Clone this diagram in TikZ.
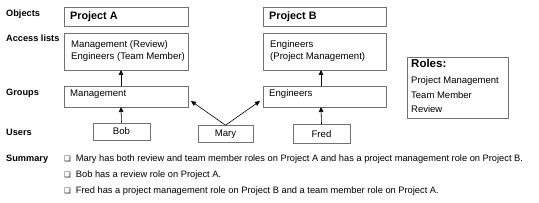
\documentclass[tikz,border=0pt]{standalone}
\usepackage{fontspec}
\setmainfont{Liberation Sans}
\newfontfamily\dejavu{DejaVu Sans}
\newcommand\mychk{{\dejavu\fontsize{7.5}{8}\selectfont ❑}\hspace{5pt}}
\usetikzlibrary{arrows.meta}
\begin{document}
\begin{tikzpicture}[x=1pt,y=-1pt,
  box/.style={draw=black!55, line width=0.6pt, inner sep=0pt},
  lbl/.style={anchor=west, inner sep=0pt, font=\fontsize{9.2}{10}\selectfont\bfseries},
  txt/.style={anchor=west, inner sep=0pt, font=\fontsize{9.6}{11.5}\selectfont, align=left},
  ttl/.style={anchor=west, inner sep=0pt, font=\fontsize{10.8}{13}\selectfont\bfseries},
  sum/.style={anchor=west, inner sep=0pt, font=\fontsize{9.3}{10}\selectfont},
  arr/.style={-{Triangle[length=5pt,width=4.5pt]}, line width=0.6pt, black}]
\useasboundingbox (0,0) rectangle (539,203);
% row labels
\node[lbl] (lobj) at (6,14) {Objects};
\node[lbl] (lacc) at (6,38) {Access lists};
\node[lbl] (lgrp) at (6,93) {Groups};
\node[lbl] (lusr) at (6,132) {Users};
\node[lbl] (lsum) at (6,159) {Summary};
% boxes
\draw[box] (64,7) rectangle (188,26);
\node[ttl] (pa) at (70,16.5) {Project A};
\draw[box] (64,33) rectangle (188,70);
\coordinate (accAb) at (121,70);
\node[txt] (acca) at (71,51) {Management (Review)\\Engineers (Team Member)};
\draw[box] (64,86) rectangle (188,107);
\coordinate (mgT) at (121,86);
\coordinate (mgB) at (121,107);
\coordinate (mgR) at (191,101);
\node[txt] (mg) at (70,94) {Management};

\draw[box] (263,7) rectangle (386,26);
\node[ttl] (pb) at (269,16.5) {Project B};
\draw[box] (263,33) rectangle (386,70);
\coordinate (accBb) at (321,70);
\node[txt] (accb) at (270,51) {Engineers\\(Project Management)};
\draw[box] (263,86) rectangle (386,107);
\coordinate (enT) at (321,86);
\coordinate (enB) at (321,107);
\coordinate (enL) at (260,101);
\node[txt] (en) at (269,94) {Engineers};

\draw[box] (407,57) rectangle (508,118);
\node[anchor=north west, inner sep=0pt, font=\fontsize{11.5}{13}\selectfont\bfseries] (rt) at (411,59) {Roles:};
\node[anchor=north west, inner sep=0pt, font=\fontsize{9.5}{14.5}\selectfont, align=left] (rl) at (411,76.5) {Project Management\\Team Member\\Review};

% users
\node[box, minimum width=57pt, minimum height=17pt, font=\fontsize{9.6}{11}\selectfont] (bob) at (121.5,131.5) {Bob};
\node[box, minimum width=55pt, minimum height=17pt, font=\fontsize{9.6}{11}\selectfont] (mary) at (225.5,134) {Mary};
\node[box, minimum width=57pt, minimum height=19pt, font=\fontsize{9.6}{11}\selectfont] (fred) at (321.5,134) {Fred};

% arrows
\draw[arr] (mgT) -- (accAb);
\draw[arr] (bob.north) -- (mgB);
\draw[arr] (enT) -- (accBb);
\draw[arr] (fred.north) -- (enB);
\draw[arr] (mary.north) -- (mgR);
\draw[arr] (mary.north) -- (enL);

% summary
\node[sum] (s1) at (64,159) {\mychk Mary has both review and team member roles on Project A and has a project management role on Project B.};
\node[sum] (s2) at (64,175) {\mychk Bob has a review role on Project A.};
\node[sum] (s3) at (64,191) {\mychk Fred has a project management role on Project B and a team member role on Project A.};
\end{tikzpicture}
\end{document}
